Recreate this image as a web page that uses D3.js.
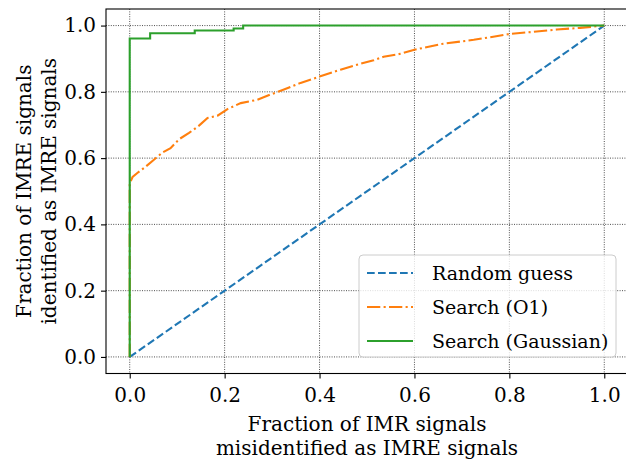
<!DOCTYPE html>
<html>
<head>
<meta charset="utf-8">
<script src="https://cdn.jsdelivr.net/npm/d3@7"></script>
<style>
  body { margin: 0; background: #fff; }
</style>
</head>
<body>
<div id="chart"></div>
<script>
// Series
const randomX = [0, 1];
const randomY = [0, 1];

const o1X = [0, 0, 0.002, 0.006, 0.016, 0.030, 0.051, 0.069, 0.086, 0.104, 0.125, 0.146, 0.164, 0.185,
  0.206, 0.234, 0.269, 0.297, 0.325, 0.36, 0.40, 0.444, 0.479, 0.514, 0.535, 0.571, 0.6, 0.655,
  0.725, 0.76, 0.802, 0.851, 0.9, 0.949, 1.0];
const o1Y = [0, 0.52, 0.53, 0.543, 0.555, 0.570, 0.595, 0.617, 0.630, 0.657, 0.676, 0.698, 0.721, 0.728,
  0.748, 0.766, 0.776, 0.792, 0.807, 0.827, 0.846, 0.867, 0.882, 0.895, 0.906, 0.915, 0.927, 0.944,
  0.957, 0.965, 0.975, 0.981, 0.988, 0.993, 1.0];

const gaussX = [0, 0, 0.043, 0.137, 0.219, 0.239, 1.0];
const gaussY = [0, 0.961, 0.977, 0.985, 0.991, 1.0, 1.0];

const ticks = [0, 0.2, 0.4, 0.6, 0.8, 1.0];
const legendLabels = ["Random guess", "Search (O1)", "Search (Gaussian)"];

const width = 626, height = 459;
const mLeft = 106, mRight = 628, mTop = 9, mBottom = 373.5;
const font = "'DejaVu Serif', 'Liberation Serif', serif";
const fs = 20;

const x = d3.scaleLinear().domain([-0.05, 1.05]).range([mLeft, mRight]);
const y = d3.scaleLinear().domain([-0.05, 1.05]).range([mBottom, mTop]);

const svg = d3.select("#chart").append("svg")
  .attr("width", width)
  .attr("height", height)
  .attr("font-family", font);

// grid
const grid = svg.append("g")
  .attr("stroke", "#222")
  .attr("stroke-width", 0.8)
  .attr("stroke-dasharray", "1,1.4");
grid.selectAll(".gx").data(ticks).join("line")
  .attr("x1", d => x(d)).attr("x2", d => x(d))
  .attr("y1", mTop).attr("y2", mBottom);
grid.selectAll(".gy").data(ticks).join("line")
  .attr("x1", mLeft).attr("x2", mRight)
  .attr("y1", d => y(d)).attr("y2", d => y(d));

// lines
const line = d3.line().x(d => x(d[0])).y(d => y(d[1]));
const lw = 2.1;

svg.append("path")
  .datum(d3.zip(randomX, randomY))
  .attr("fill", "none")
  .attr("stroke", "#1f77b4")
  .attr("stroke-width", lw)
  .attr("stroke-dasharray", "7.7,3.3")
  .attr("d", line);

svg.append("path")
  .datum(d3.zip(o1X, o1Y))
  .attr("fill", "none")
  .attr("stroke", "#ff7f0e")
  .attr("stroke-width", lw)
  .attr("stroke-dasharray", "13.3,3.3,2.1,3.3")
  .attr("d", line);

svg.append("path")
  .datum(d3.zip(gaussX, gaussY))
  .attr("fill", "none")
  .attr("stroke", "#2ca02c")
  .attr("stroke-width", lw)
  .attr("d", line.curve(d3.curveStepAfter));

// axes
const xAxis = d3.axisBottom(x).tickValues(ticks).tickSize(5).tickPadding(9)
  .tickFormat(d3.format(".1f"));
const yAxis = d3.axisLeft(y).tickValues(ticks).tickSize(5).tickPadding(5)
  .tickFormat(d3.format(".1f"));

const gx = svg.append("g").attr("transform", `translate(0,${mBottom})`).call(xAxis);
const gy = svg.append("g").attr("transform", `translate(${mLeft},0)`).call(yAxis);
[gx, gy].forEach(g => {
  g.attr("font-family", font).attr("font-size", fs);
  g.select(".domain").remove();
  g.selectAll(".tick line").attr("stroke", "#000").attr("stroke-width", 1.1);
});

// frame
svg.append("rect")
  .attr("x", mLeft).attr("y", mTop)
  .attr("width", mRight - mLeft).attr("height", mBottom - mTop)
  .attr("fill", "none")
  .attr("stroke", "#000")
  .attr("stroke-width", 1.1);

// axis labels
svg.append("text")
  .attr("x", (mLeft + mRight) / 2).attr("y", 431)
  .attr("text-anchor", "middle").attr("font-size", fs)
  .text("Fraction of IMR signals");
svg.append("text")
  .attr("x", (mLeft + mRight) / 2).attr("y", 455)
  .attr("text-anchor", "middle").attr("font-size", fs)
  .text("misidentified as IMRE signals");

const yl = svg.append("g")
  .attr("transform", `translate(0,${(mTop + mBottom) / 2}) rotate(-90)`);
yl.append("text").attr("x", 0).attr("y", 31)
  .attr("text-anchor", "middle").attr("font-size", fs)
  .text("Fraction of IMRE signals");
yl.append("text").attr("x", 0).attr("y", 56)
  .attr("text-anchor", "middle").attr("font-size", fs)
  .text("identified as IMRE signals");

// legend
const legend = svg.append("g");
legend.append("rect")
  .attr("x", 359).attr("y", 255).attr("width", 257).attr("height", 102)
  .attr("rx", 4)
  .attr("fill", "#fff").attr("fill-opacity", 0.8)
  .attr("stroke", "#ccc").attr("stroke-width", 1);

const styles = [
  { color: "#1f77b4", dash: "7.7,3.3" },
  { color: "#ff7f0e", dash: "13.3,3.3,2.1,3.3" },
  { color: "#2ca02c", dash: null }
];
const rows = legend.selectAll(".row").data(legendLabels).join("g")
  .attr("transform", (d, i) => `translate(0,${273 + i * 34})`);
rows.append("line")
  .attr("x1", 367).attr("x2", 413)
  .attr("stroke", (d, i) => styles[i].color)
  .attr("stroke-width", lw)
  .attr("stroke-dasharray", (d, i) => styles[i].dash);
rows.append("text")
  .attr("x", 432).attr("y", 7)
  .attr("font-size", 19)
  .text(d => d);
</script>
</body>
</html>
